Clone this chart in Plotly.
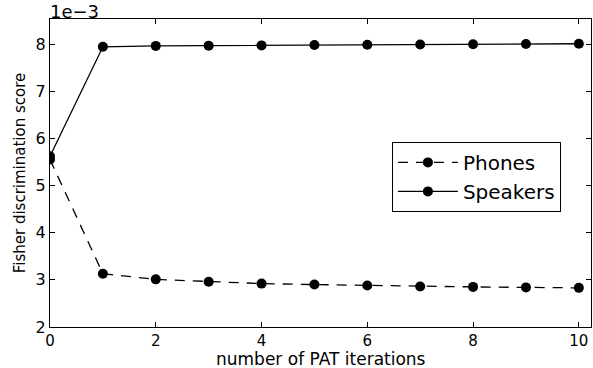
import plotly.graph_objects as go

iterations = [0, 1, 2, 3, 4, 5, 6, 7, 8, 9, 10]
phones = [5.55, 3.13, 3.01, 2.96, 2.92, 2.90, 2.88, 2.86, 2.85, 2.84, 2.83]
speakers = [5.62, 7.94, 7.96, 7.965, 7.97, 7.98, 7.985, 7.99, 7.995, 8.0, 8.005]
x_ticks = [0, 2, 4, 6, 8, 10]
y_ticks = [2, 3, 4, 5, 6, 7, 8]

fig = go.Figure()
fig.add_trace(go.Scatter(
    x=iterations, y=phones, name="Phones", mode="lines+markers",
    line=dict(color="black", width=1.3, dash="10px,8px"),
    marker=dict(color="black", size=10),
))
fig.add_trace(go.Scatter(
    x=iterations, y=speakers, name="Speakers", mode="lines+markers",
    line=dict(color="black", width=1.3),
    marker=dict(color="black", size=10),
))

axis_common = dict(
    showgrid=False, zeroline=False, showline=True, linecolor="black", linewidth=1.3,
    mirror="ticks", ticks="inside", ticklen=5, tickcolor="black", tickwidth=1,
    tickfont=dict(family="DejaVu Sans", size=16, color="black"),
)

fig.update_layout(
    width=593, height=368,
    margin=dict(l=50, r=2, t=19, b=41),
    paper_bgcolor="white", plot_bgcolor="white",
    font=dict(family="DejaVu Sans", color="black"),
    xaxis=dict(range=[0, 10.23], tickvals=x_ticks, ticktext=[str(v) for v in x_ticks],
               **axis_common),
    yaxis=dict(range=[2, 8.53], tickvals=y_ticks, ticktext=[str(v) for v in y_ticks],
               title=dict(text="Fisher discrimination score", font=dict(size=15), standoff=6),
               **axis_common),
    legend=dict(
        x=0.632, y=0.601, xanchor="left", yanchor="top",
        bordercolor="black", borderwidth=1, bgcolor="white",
        font=dict(size=20, family="DejaVu Sans"),
        tracegroupgap=0, itemwidth=60,
    ),
    showlegend=True,
)
fig.update_xaxes(tickfont=dict(size=15))

fig.add_annotation(
    text="number of PAT iterations", xref="paper", yref="paper", x=0.5, y=0,
    xanchor="center", yanchor="top", showarrow=False,
    font=dict(size=17, family="DejaVu Sans"), yshift=-20,
)

fig.add_annotation(
    text="1e\u22123", xref="paper", yref="paper", x=0, y=1, xanchor="left", yanchor="bottom",
    showarrow=False, font=dict(size=18, family="DejaVu Sans"), xshift=-2, yshift=-5,
)

fig.write_html("out.html")
